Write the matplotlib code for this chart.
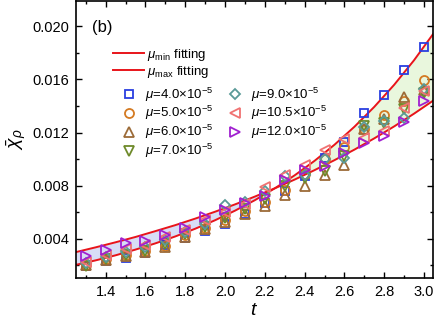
import numpy as np
import matplotlib
matplotlib.use("Agg")
import matplotlib.pyplot as plt
from matplotlib.ticker import MultipleLocator

plt.rcParams['font.family'] = ['Liberation Sans', 'DejaVu Sans']
plt.rcParams['mathtext.fontset'] = 'custom'
plt.rcParams['mathtext.rm'] = 'Liberation Sans'
plt.rcParams['mathtext.it'] = 'Liberation Sans:italic'
plt.rcParams['mathtext.bf'] = 'Liberation Sans:bold'

# fitting curves
t_fit = [1.25, 1.35, 1.45, 1.55, 1.65, 1.75, 1.85, 1.95, 2.05, 2.15,
         2.25, 2.35, 2.45, 2.55, 2.65, 2.75, 2.85, 2.95, 3.05]
fit_min = [0.00300, 0.00336, 0.00374, 0.00414, 0.00458, 0.00503, 0.00552, 0.00604, 0.00659, 0.00718,
           0.00780, 0.00846, 0.00917, 0.00992, 0.01071, 0.01156, 0.01246, 0.01342, 0.01444]
fit_max = [0.00204, 0.00238, 0.00276, 0.00319, 0.00366, 0.00418, 0.00476, 0.00540, 0.00612, 0.00691,
           0.00780, 0.00878, 0.00987, 0.01108, 0.01243, 0.01393, 0.01559, 0.01744, 0.01950]

# data points
t = [1.3, 1.4, 1.5, 1.6, 1.7, 1.8, 1.9, 2.0, 2.1, 2.2, 2.3, 2.4, 2.5, 2.6, 2.7, 2.8, 2.9, 3.0]
mu40 = [.00195, .00230, .00257, .00290, .00350, .00408, .00457, .00515, .00590, .00670,
        .00758, .00870, .01010, .01130, .01347, .01485, .01668, .01844]
mu50 = [.00205, .00245, .00275, .00305, .00345, .00425, .00480, .00540, .00610, .00680,
        .00770, .00890, .01000, .01090, .01230, .01330, .01440, .01598]
mu60 = [.00200, .00240, .00270, .00300, .00340, .00415, .00475, .00530, .00590, .00645,
        .00733, .00800, .00883, .00959, .01230, .01300, .01468, .01520]
mu70 = [.00195, .00245, .00280, .00310, .00360, .00435, .00490, .00555, .00625, .00700,
        .00800, .00860, .00910, .01020, .01250, .01270, .01380, .01500]
mu90 = [.00215, .00260, .00300, .00335, .00390, .00455, .00510, .00658, .00680, .00760,
        .00870, .00880, .01000, .01010, .01240, .01284, .01310, .01530]
mu105 = [.00225, .00275, .00320, .00350, .00410, .00470, .00540, .00600, .00660, .00791,
         .00883, .00959, .01071, .01152, .01160, .01210, .01385, .01510]
mu120 = [.00269, .00314, .00365, .00387, .00432, .00480, .00565, .00620, .00670, .00720,
         .00846, .00921, .00946, .01047, .01120, .01171, .01277, .01435]

series = [mu40, mu50, mu60, mu70, mu90, mu105, mu120]
labels = [r'$\mu$=4.0×10$^{-5}$', r'$\mu$=5.0×10$^{-5}$', r'$\mu$=6.0×10$^{-5}$',
          r'$\mu$=7.0×10$^{-5}$', r'$\mu$=9.0×10$^{-5}$', r'$\mu$=10.5×10$^{-5}$',
          r'$\mu$=12.0×10$^{-5}$']
markers = ['s', 'o', '^', 'v', 'D', '<', '>']
colors = ['#2a3fe0', '#d47a22', '#9c6b38', '#6e8a2a', '#5a9a98', '#f07272', '#a020d0']
msizes = [6, 6.5, 7, 7, 5.5, 7, 7]

fig = plt.figure(figsize=(4.36, 3.25), dpi=100)
ax = fig.add_axes([0.174, 0.145, 0.819, 0.852])

tf = np.array(t_fit)
a = np.array(fit_min)
b = np.array(fit_max)
ax.fill_between(tf, a, b, where=a >= b, interpolate=True, color='#d8ddf6', lw=0)
ax.fill_between(tf, a, b, where=a <= b, interpolate=True, color='#e9f7dd', lw=0)

l1, = ax.plot(tf, b, color='#e8141a', lw=1.4)
l2, = ax.plot(tf, a, color='#e8141a', lw=1.4)

handles = []
for ys, lab, m, c, ms in zip(series, labels, markers, colors, msizes):
    h, = ax.plot(t, ys, ls='none', marker=m, ms=ms, mfc='none', mec=c, mew=1.3, label=lab)
    handles.append(h)

leg1 = ax.legend([l1, l2], [r'$\mu_{\rm min}$ fitting', r'$\mu_{\rm max}$ fitting'],
                 loc='upper left', bbox_to_anchor=(0.104, 0.835), frameon=False,
                 fontsize=9.5, handlelength=2.35, handletextpad=0.2, labelspacing=0.1,
                 borderpad=0, borderaxespad=0)
ax.add_artist(leg1)
ax.legend(handles=handles, loc='upper left', bbox_to_anchor=(0.13, 0.695), ncol=2,
          frameon=False, fontsize=9.5, handlelength=1.0, handletextpad=0.75,
          labelspacing=0.05, columnspacing=1.1, borderpad=0, borderaxespad=0)

ax.text(0.045, 0.905, '(b)', transform=ax.transAxes, fontsize=12, va='center', ha='left')

ax.set_xlim(1.25, 3.045)
ax.set_ylim(0.00106, 0.0219)
ax.xaxis.set_major_locator(MultipleLocator(0.2))
ax.xaxis.set_minor_locator(MultipleLocator(0.1))
ax.yaxis.set_major_locator(MultipleLocator(0.004))
ax.yaxis.set_minor_locator(MultipleLocator(0.002))
ax.set_xticklabels([f'{v:.1f}' for v in ax.get_xticks()])
ax.set_yticklabels([f'{v:.3f}' for v in ax.get_yticks()])
ax.tick_params(which='both', direction='in', top=True, right=True, labelsize=10.5, width=1.0)
ax.tick_params(which='major', length=4.5, pad=5)
ax.tick_params(which='minor', length=2.5)
for s in ax.spines.values():
    s.set_linewidth(1.2)

ax.set_xlabel(r'$t$', fontsize=14, labelpad=2)
ax.set_ylabel(r'$\bar{\chi}_{\rho}$', fontsize=14, labelpad=3)

fig.savefig('out.png', dpi=100)
